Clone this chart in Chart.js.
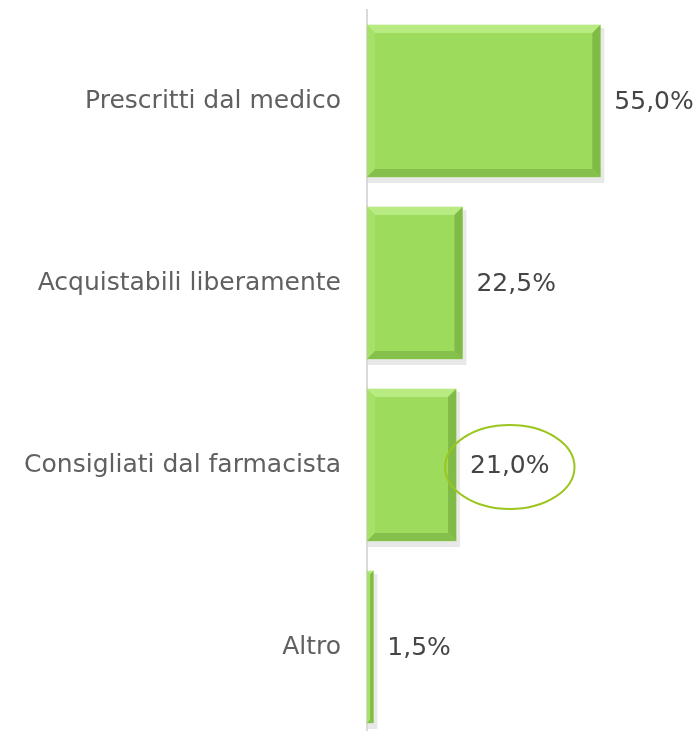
<!DOCTYPE html>
<html>
<head>
<meta charset="utf-8">
<script src="https://cdn.jsdelivr.net/npm/chart.js@4/dist/chart.umd.min.js"></script>
<style>
  html, body { margin: 0; padding: 0; background: #fff; overflow: hidden; }
  canvas { display: block; }
</style>
</head>
<body>
<canvas id="chart" width="696" height="745"></canvas>
<script>
// data
const categories = ['Prescritti dal medico', 'Acquistabili liberamente', 'Consigliati dal farmacista', 'Altro'];
const values = [55.0, 22.5, 21.0, 1.5];
const highlighted = [2]; // circled value

const fmt = v => v.toFixed(1).replace('.', ',') + '%';

// bevel + shadow for the bars, value labels and the ellipse
const barDecor = {
  id: 'barDecor',
  beforeDatasetsDraw(chart) {
    const ctx = chart.ctx;
    chart.getDatasetMeta(0).data.forEach(bar => {
      const top = bar.y - bar.height / 2;
      ctx.save();
      ctx.fillStyle = 'rgba(0,0,0,0.09)';
      ctx.fillRect(bar.base + 1, top + 3, bar.x - bar.base + 3, bar.height + 3);
      ctx.restore();
    });
  },
  afterDatasetsDraw(chart) {
    const ctx = chart.ctx;
    chart.getDatasetMeta(0).data.forEach((bar, i) => {
      const l = bar.base, r = bar.x;
      const t = bar.y - bar.height / 2, b = bar.y + bar.height / 2;
      const e = Math.min(8, (r - l) / 2);
      ctx.save();
      // top bevel (light)
      ctx.fillStyle = '#b8ec82';
      ctx.beginPath();
      ctx.moveTo(l, t); ctx.lineTo(r, t); ctx.lineTo(r - e, t + e); ctx.lineTo(l + e, t + e); ctx.closePath(); ctx.fill();
      // left bevel
      ctx.fillStyle = '#a6e269';
      ctx.beginPath();
      ctx.moveTo(l, t); ctx.lineTo(l + e, t + e); ctx.lineTo(l + e, b - e); ctx.lineTo(l, b); ctx.closePath(); ctx.fill();
      // right bevel (dark)
      ctx.fillStyle = '#80bb48';
      ctx.beginPath();
      ctx.moveTo(r, t); ctx.lineTo(r, b); ctx.lineTo(r - e, b - e); ctx.lineTo(r - e, t + e); ctx.closePath(); ctx.fill();
      // bottom bevel
      ctx.fillStyle = '#86c04c';
      ctx.beginPath();
      ctx.moveTo(l, b); ctx.lineTo(r, b); ctx.lineTo(r - e, b - e); ctx.lineTo(l + e, b - e); ctx.closePath(); ctx.fill();

      // value label
      ctx.fillStyle = '#454545';
      ctx.font = '25px "DejaVu Sans"';
      ctx.textBaseline = 'middle';
      ctx.textAlign = 'left';
      const txt = fmt(values[i]);
      ctx.fillText(txt, r + 14, bar.y + 1);

      if (highlighted.includes(i)) {
        const w = ctx.measureText(txt).width;
        ctx.strokeStyle = '#9cc51e';
        ctx.lineWidth = 2;
        ctx.beginPath();
        ctx.ellipse(r + 14 + w / 2, bar.y + 2, w / 2 + 25, 42, 0, 0, Math.PI * 2);
        ctx.stroke();
      }
      ctx.restore();
    });
  }
};

new Chart(document.getElementById('chart'), {
  type: 'bar',
  data: {
    labels: categories,
    datasets: [{
      data: values,
      backgroundColor: '#9cdb5b',
      borderWidth: 0,
      barThickness: 152
    }]
  },
  options: {
    indexAxis: 'y',
    responsive: false,
    animation: false,
    layout: { padding: { top: 10, right: 32, bottom: 7, left: 11 } },
    plugins: { legend: { display: false }, tooltip: { enabled: false } },
    scales: {
      x: {
        min: 0, max: 70,
        display: false
      },
      y: {
        grid: { display: false, drawTicks: false },
        border: { display: true, color: '#d9d9d9', width: 2 },
        ticks: {
          color: '#606060',
          padding: 26,
          font: { family: 'DejaVu Sans', size: 25 }
        },
        afterFit(scale) {
          // tick padding should only push the labels sideways
          scale.paddingTop = 0;
          scale.paddingBottom = 0;
          // room for the long labels (the layout caps it otherwise)
          scale.width = 356;
        }
      }
    }
  },
  plugins: [barDecor]
});
</script>
</body>
</html>
